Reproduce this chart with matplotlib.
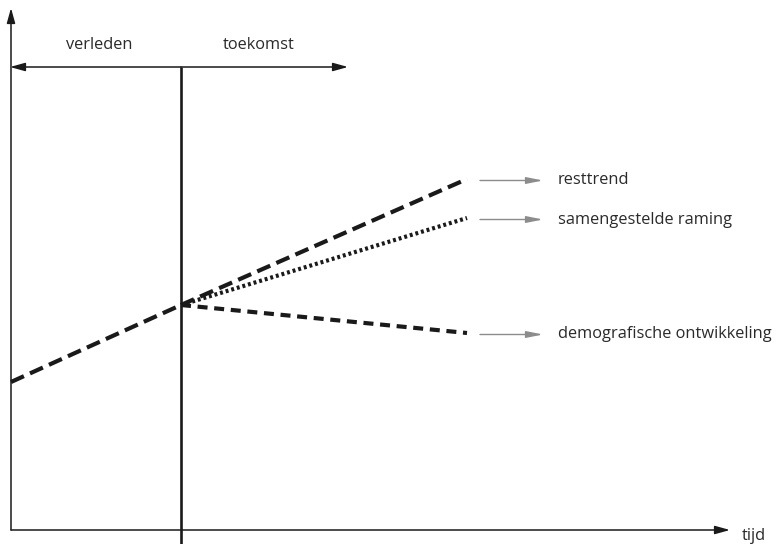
import matplotlib.pyplot as plt

# schematic coordinates (pixel-like units, y grows downward)
now_x = 181
start_x = 11
end_x = 467
past_y = [382, 305]
trend_names = ['resttrend', 'samengestelde raming', 'demografische ontwikkeling']
trend_end_y = [179, 218, 333]
trend_styles = [(0, (3.4, 1.6)), (0, (0.7, 0.7)), (0, (2.4, 1.6))]
period_labels = ['verleden', 'toekomst']
axis_label = 'tijd'

plt.rcParams['font.family'] = ['Open Sans', 'DejaVu Sans']
fs = 11.8

fig = plt.figure(figsize=(7.76, 5.44), dpi=100)
ax = fig.add_axes([0, 0, 1, 1])
ax.set_xlim(0, 776)
ax.set_ylim(544, 0)
ax.axis('off')

black_head = dict(arrowstyle='-|>,head_length=0.9,head_width=0.25', color='#1a1a1a', lw=1.1,
                  shrinkA=0, shrinkB=0)
# axes
ax.annotate('', xy=(start_x, 8), xytext=(start_x, 530), arrowprops=black_head)
ax.annotate('', xy=(730, 530), xytext=(start_x, 530), arrowprops=black_head)
ax.text(742, 536, axis_label, fontsize=fs, color='#2a2a2a', va='center', ha='left')

# past / future double arrow
ax.annotate('', xy=(start_x - 1, 67), xytext=(now_x, 67), arrowprops=black_head)
ax.annotate('', xy=(348, 67), xytext=(now_x, 67), arrowprops=black_head)
ax.plot([now_x, now_x], [67, 544], color='#1a1a1a', lw=1.9, solid_capstyle='butt')
ax.text(99, 45, period_labels[0], fontsize=fs, color='#2a2a2a', ha='center', va='center')
ax.text(259, 45, period_labels[1], fontsize=fs, color='#2a2a2a', ha='center', va='center')

# past trend
ax.plot([start_x, now_x], past_y, color='#1a1a1a', lw=3.0, linestyle=(0, (3.4, 1.6)),
        dash_capstyle='butt')

gray_head = dict(arrowstyle='-|>,head_length=1.0,head_width=0.2', color='#8c8c8c', lw=1.0,
                 shrinkA=0, shrinkB=0)
for name, y_end, style in zip(trend_names, trend_end_y, trend_styles):
    ax.plot([now_x, end_x], [past_y[-1], y_end], color='#1a1a1a', lw=3.0, linestyle=style,
            dash_capstyle='butt')
    ax.annotate('', xy=(543, y_end + 1.5), xytext=(480, y_end + 1.5), arrowprops=gray_head)
    ax.text(558, y_end + 1.5, name, fontsize=fs, color='#2a2a2a', ha='left', va='center')

fig.savefig('out.png', dpi=100)
